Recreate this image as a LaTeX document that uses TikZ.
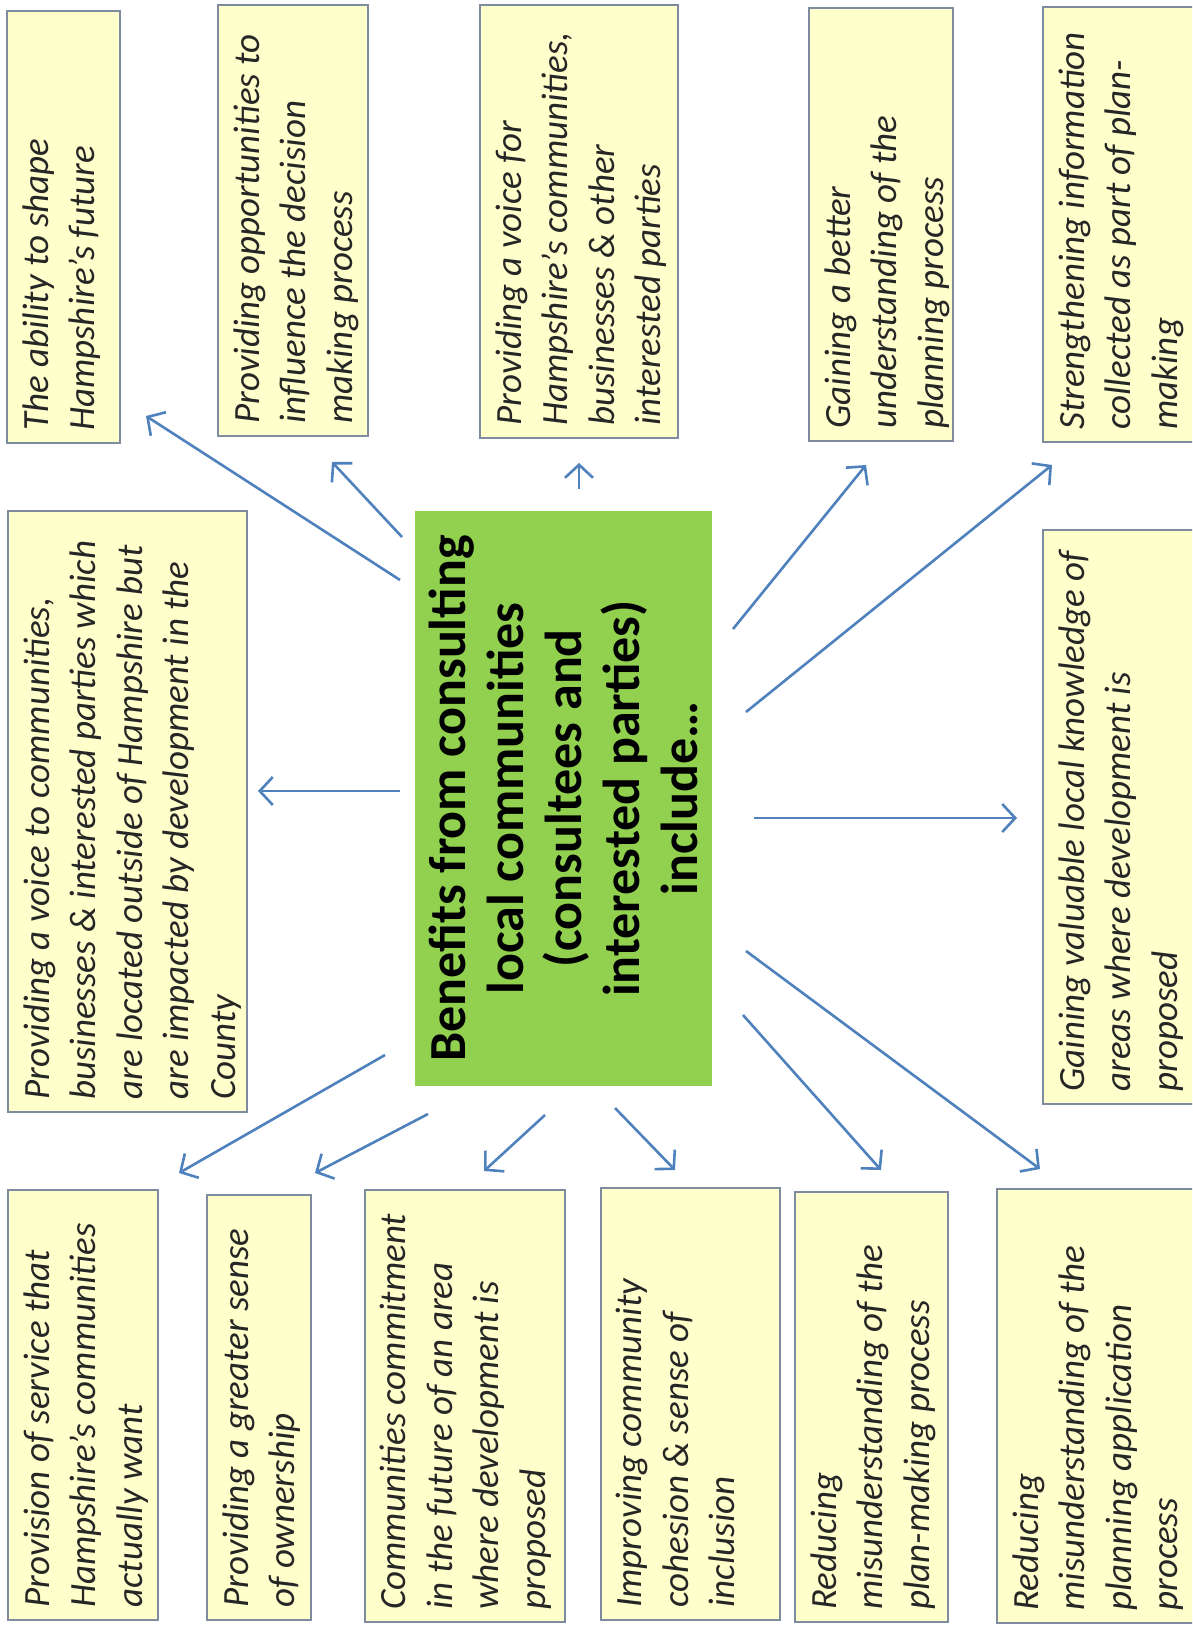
\documentclass[tikz,border=0pt]{standalone}
\usepackage{fontspec}
\setmainfont{Carlito}
\usetikzlibrary{arrows.meta}
\definecolor{boxfill}{HTML}{FFFFCC}
\definecolor{boxline}{HTML}{7F8CA0}
\definecolor{arr}{HTML}{4F81BD}
\definecolor{ctrgreen}{HTML}{92D050}
\tikzset{
  box/.style={draw=boxline, line width=1.6pt, fill=boxfill, rotate=90, inner sep=0pt},
  btext/.style={rotate=90, anchor=north west, align=left, inner xsep=13pt, inner ysep=16pt,
    font=\fontsize{37}{46.5}\selectfont\itshape, text=black!85},
  ctrbox/.style={fill=ctrgreen, rotate=90, align=center, inner sep=0pt,
    font=\fontsize{52}{58}\selectfont\bfseries, text=black},
  arrowline/.style={draw=arr, line width=2.6pt, -{Straight Barb[length=13pt,width=28pt,line width=2.6pt]}},
}
\newcommand\mkbox[6]{%
  \pgfmathsetmacro\bw{#5-#3}\pgfmathsetmacro\bh{#4-#2}%
  \node[box, minimum width=\bw pt, minimum height=\bh pt] (#1) at ({(#2+#4)/2},{(#3+#5)/2}) {};
  \node[btext] (#1t) at (#1.north west) {#6};}
\begin{document}
\begin{tikzpicture}[x=1pt,y=-1pt]
\useasboundingbox[fill=white] (0,0) rectangle (1192,1629);
\clip (0,0) rectangle (1192,1629);
% centre
\node[ctrbox, minimum width=575pt, minimum height=297pt] (c) at (563.5,798.5)
  {Benefits from consulting\\local communities\\(consultees and\\interested parties)\\include…};
% boxes
\mkbox{b1}{7}{11}{120}{443}{The ability to shape\\Hampshire’s future}
\mkbox{b2}{218}{5}{368}{436}{Providing opportunities to\\influence the decision\\making process}
\mkbox{b3}{480}{5}{678}{438}{Providing a voice for\\Hampshire’s communities,\\businesses \& other\\interested parties}
\mkbox{b4}{809}{8}{953}{441}{Gaining a better\\understanding of the\\planning process}
\mkbox{b5}{1043}{7}{1230}{442}{Strengthening information\\collected as part of plan-\\making}
\mkbox{b6}{8}{511}{247}{1112}{Providing a voice to communities,\\businesses \& interested parties which\\are located outside of Hampshire but\\are impacted by development in the\\County}
\mkbox{b7}{1043}{530}{1230}{1104}{Gaining valuable local knowledge of\\areas where development is\\proposed}
\mkbox{b8}{8}{1190}{158}{1620}{Provision of service that\\Hampshire’s communities\\actually want}
\mkbox{b9}{207}{1195}{311}{1620}{Providing a greater sense\\of ownership}
\mkbox{b10}{365}{1190}{565}{1622}{Communities commitment\\in the future of an area\\where development is\\proposed}
\mkbox{b11}{601}{1188}{780}{1620}{Improving community\\cohesion \& sense of\\inclusion}
\mkbox{b12}{795}{1192}{948}{1622}{Reducing\\misunderstanding of the\\plan-making process}
\mkbox{b13}{997}{1189}{1230}{1623}{Reducing\\misunderstanding of the\\planning application\\process}
% arrow endpoints
\coordinate (s1) at (400,580); \coordinate (t1) at (146,416);
\coordinate (s2) at (402,537); \coordinate (t2) at (332,462);
\coordinate (s3) at (579,489); \coordinate (t3) at (579,463);
\coordinate (s4) at (733,629); \coordinate (t4) at (866,465);
\coordinate (s5) at (746,712); \coordinate (t5) at (1052,465);
\coordinate (s6) at (400,791); \coordinate (t6) at (258,791);
\coordinate (s7) at (754,818); \coordinate (t7) at (1017,818);
\coordinate (s8) at (385,1055); \coordinate (t8) at (179,1173);
\coordinate (s9) at (428,1114); \coordinate (t9) at (315,1173);
\coordinate (s10) at (545,1115); \coordinate (t10) at (484,1171);
\coordinate (s11) at (615,1108); \coordinate (t11) at (675,1170);
\coordinate (s12) at (743,1015); \coordinate (t12) at (881,1170);
\coordinate (s13) at (746,951); \coordinate (t13) at (1040,1169);
\foreach \i in {1,...,13} {\draw[arrowline] (s\i) -- (t\i);}
\end{tikzpicture}
\end{document}
